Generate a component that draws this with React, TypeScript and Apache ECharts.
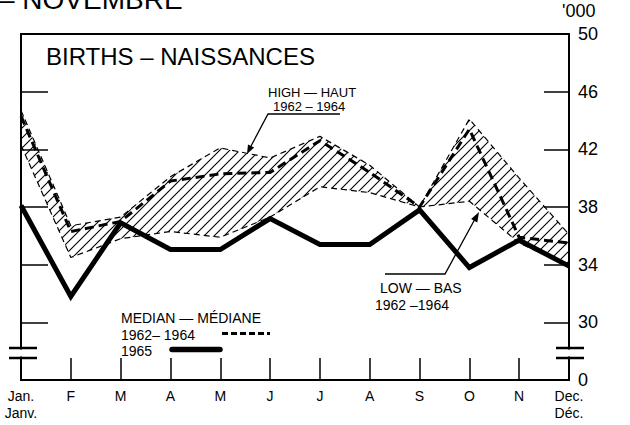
import React, { useEffect, useRef } from 'react';
import * as echarts from 'echarts';

const months = ['Jan.\nJanv.', 'F', 'M', 'A', 'M', 'J', 'J', 'A', 'S', 'O', 'N', 'Dec.\nDéc.'];
const high6264 = [44.7, 36.7, 37.3, 40.1, 42.1, 41.4, 42.9, 40.9, 38.0, 44.1, 40.0, 36.1];
const median6264 = [44.3, 36.3, 37.0, 39.8, 40.3, 40.4, 42.6, 40.4, 38.0, 43.4, 35.9, 35.5];
const low6264 = [42.3, 34.5, 35.8, 36.3, 35.9, 37.3, 39.4, 39.0, 38.0, 38.4, 35.5, 33.9];
const births1965 = [38.1, 31.8, 36.9, 35.05, 35.05, 37.2, 35.4, 35.4, 37.8, 33.8, 35.7, 33.9];
const yTicks = [30, 34, 38, 42, 46, 50];
const yBase = 26; // drawn as "0" below the axis break

const FONT = 'Liberation Sans';

export default function App() {
  const ref = useRef<HTMLDivElement>(null);
  useEffect(() => {
    document.body.style.margin = '0';
    const chart = echarts.init(ref.current!, null, { renderer: 'svg' });
    const band = high6264.map((h, i) => +(h - low6264[i]).toFixed(2));
    const hatchSvg =
      '<svg xmlns="http://www.w3.org/2000/svg" width="10" height="10">' +
      '<path d="M-1,1 L1,-1 M0,10 L10,0 M9,11 L11,9" stroke="#000" stroke-width="1.1" fill="none"/></svg>';
    const hatchUrl = 'data:image/svg+xml;charset=utf-8,' + encodeURIComponent(hatchSvg);
    const black = '#000';
    const txt = (text: string, x: number, y: number, fontSize: number, extra: any = {}) => ({
      type: 'text',
      z: 100,
      style: {
        text, x, y, fontSize, fontFamily: FONT, fill: black,
        textAlign: 'left', textVerticalAlign: 'middle', align: 'left', verticalAlign: 'middle',
        ...extra,
      },
    });
    const ln = (x1: number, y1: number, x2: number, y2: number, w: number, extra: any = {}) => ({
      type: 'line', z: 100,
      shape: { x1, y1, x2, y2 },
      style: { stroke: black, lineWidth: w, ...extra },
    });
    chart.setOption({
      animation: false,
      backgroundColor: '#fff',
      grid: { left: 21, right: 61, top: 34, bottom: 45, show: true, borderColor: black, borderWidth: 2, backgroundColor: 'transparent' },
      xAxis: {
        type: 'category',
        data: months,
        boundaryGap: false,
        axisLine: { lineStyle: { color: black, width: 2 } },
        axisTick: { inside: true, length: 22, interval: 0, lineStyle: { color: black, width: 1.5 } },
        axisLabel: { color: black, fontSize: 14, fontFamily: FONT, margin: 7, lineHeight: 17, interval: 0 },
        splitLine: { show: false },
      },
      yAxis: [
        {
          type: 'value', position: 'right', min: yBase, max: 50,
          axisLine: { show: true, lineStyle: { color: black, width: 2 } },
          axisTick: { show: true, inside: true, length: 25, customValues: yTicks.slice(0, -1), lineStyle: { color: black, width: 1.5 } },
          axisLabel: {
            customValues: [yBase, ...yTicks],
            formatter: (v: number) => (v === yBase ? '0' : String(v)),
            color: black, fontSize: 18, fontFamily: FONT, margin: 9,
          },
          splitLine: { show: false },
        },
        {
          type: 'value', position: 'left', min: yBase, max: 50,
          axisLine: { show: true, lineStyle: { color: black, width: 2 } },
          axisTick: { show: true, inside: true, length: 27, customValues: yTicks.slice(0, -1), lineStyle: { color: black, width: 1.5 } },
          axisLabel: { show: false },
          splitLine: { show: false },
        },
      ],
      series: [
        {
          name: 'Low 1962-1964', type: 'line', data: low6264, stack: 'band', symbol: 'none', z: 2,
          lineStyle: { color: black, width: 1.2, type: [6, 4] },
        },
        {
          name: 'High 1962-1964', type: 'line', data: band, stack: 'band', symbol: 'none', z: 1,
          lineStyle: { color: black, width: 1.2, type: [6, 4] },
          areaStyle: { color: { image: hatchUrl, repeat: 'repeat', imageWidth: 10, imageHeight: 10 }, opacity: 1 },
        },
        {
          name: 'Median 1962-1964', type: 'line', data: median6264, symbol: 'none', z: 3,
          lineStyle: { color: black, width: 3, type: [9, 5] },
        },
        {
          name: '1965', type: 'line', data: births1965, symbol: 'none', z: 4,
          lineStyle: { color: black, width: 5, join: 'miter' },
        },
      ],
      graphic: [
        txt('– NOVEMBRE', -1, -1, 28),
        txt('BIRTHS – NAISSANCES', 46, 56, 24),
        txt("'000", 562, 11, 18),
        // HIGH label and arrow
        txt('HIGH — HAUT', 268, 92.5, 13),
        txt('1962 – 1964', 273, 106.5, 13),
        { type: 'polyline', z: 100, shape: { points: [[340, 114], [268, 114], [250, 148]] }, style: { stroke: black, lineWidth: 1.3, fill: null } },
        { type: 'polygon', z: 100, shape: { points: [[247, 154], [254.2, 147.6], [248, 144.4]] }, style: { fill: black } },
        // LOW label and arrow
        txt('LOW — BAS', 380, 288, 14),
        txt('1962 –1964', 375, 305, 14),
        { type: 'polyline', z: 100, shape: { points: [[385, 274], [445, 274], [475, 219]] }, style: { stroke: black, lineWidth: 1.3, fill: null } },
        { type: 'polygon', z: 100, shape: { points: [[479, 212], [477.3, 222.5], [471.1, 219.1]] }, style: { fill: black } },
        // legend
        txt('MEDIAN — MÉDIANE', 121, 317.5, 14),
        txt('1962– 1964', 121, 334.5, 14),
        txt('1965', 121, 351, 14),
        ln(222, 333.5, 270, 333.5, 3, { lineDash: [6, 3] }),
        ln(172, 349.5, 220, 349.5, 5.5, { lineCap: 'round' }),
        // axis breaks
        { type: 'rect', z: 99, shape: { x: 16, y: 349.5, width: 10, height: 7 }, style: { fill: '#fff' } },
        { type: 'rect', z: 99, shape: { x: 564, y: 349.5, width: 10, height: 7 }, style: { fill: '#fff' } },
        ln(9, 348, 37, 348, 2.5),
        ln(9, 358, 37, 358, 2.5),
        ln(556, 348, 584, 348, 2.5),
        ln(556, 358, 584, 358, 2.5),
      ],
    });
    return () => chart.dispose();
  }, []);
  return <div ref={ref} style={{ width: 630, height: 425 }} />;
}
